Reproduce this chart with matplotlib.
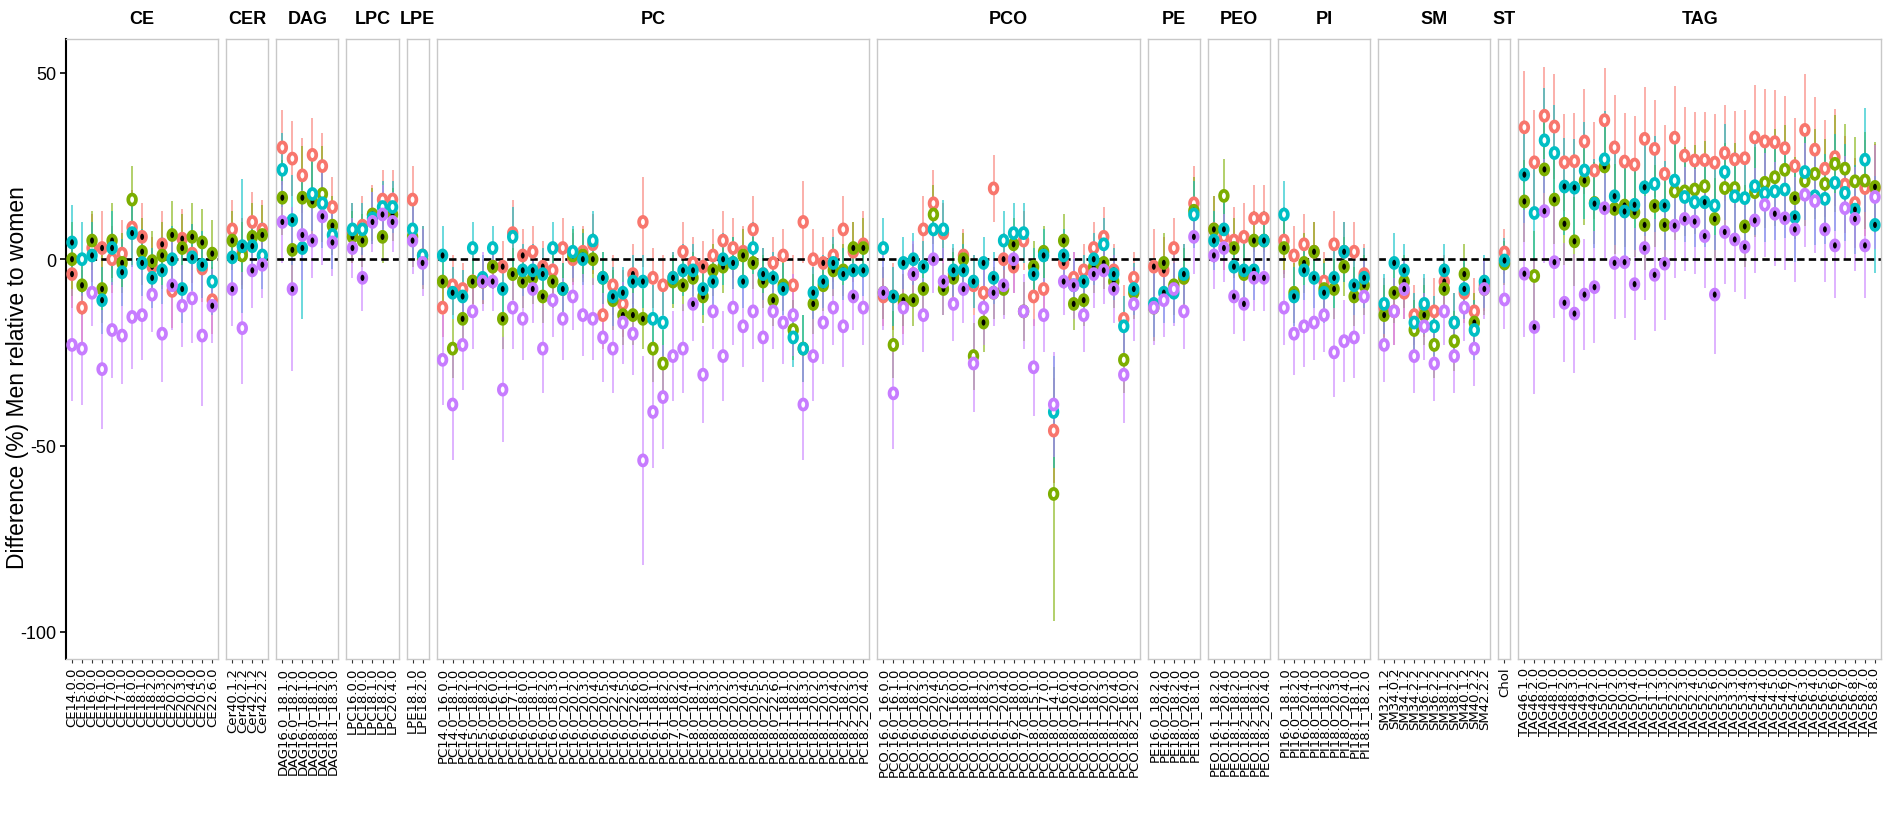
import numpy as np
import matplotlib
matplotlib.use("Agg")
import matplotlib.pyplot as plt
from matplotlib.path import Path
from matplotlib import font_manager as fm

# ---------------- data ----------------
panels = ["CE", "CER", "DAG", "LPC", "LPE", "PC", "PCO", "PE", "PEO", "PI", "SM", "ST", "TAG"]

ce_lipids = ["CE14.0.0", "CE15.0.0", "CE16.0.0", "CE16.1.0", "CE17.0.0", "CE17.1.0", "CE18.0.0",
             "CE18.1.0", "CE18.2.0", "CE18.3.0", "CE20.2.0", "CE20.3.0", "CE20.4.0", "CE20.5.0", "CE22.6.0"]
cer_lipids = ["Cer40.1.2", "Cer40.2.2", "Cer42.1.2", "Cer42.2.2"]
dag_lipids = ["DAG16.0_18.1.0", "DAG16.0_18.2.0", "DAG16.1_18.1.0", "DAG18.0_18.1.0",
              "DAG18.1_18.2.0", "DAG18.1_18.3.0"]
lpc_lipids = ["LPC16.0.0", "LPC18.0.0", "LPC18.1.0", "LPC18.2.0", "LPC20.4.0"]
lpe_lipids = ["LPE18.1.0", "LPE18.2.0"]
pc_lipids = ["PC14.0_16.0.0", "PC14.0_18.1.0", "PC14.0_18.2.0", "PC15.0_18.1.0", "PC15.0_18.2.0",
             "PC16.0_16.0.0", "PC16.0_16.1.0", "PC16.0_17.1.0", "PC16.0_18.0.0", "PC16.0_18.1.0",
             "PC16.0_18.2.0", "PC16.0_18.3.0", "PC16.0_20.1.0", "PC16.0_20.2.0", "PC16.0_20.3.0",
             "PC16.0_20.4.0", "PC16.0_20.5.0", "PC16.0_22.4.0", "PC16.0_22.5.0", "PC16.0_22.6.0",
             "PC16.1_18.0.0", "PC16.1_18.1.0", "PC16.1_18.2.0", "PC17.0_18.2.0", "PC17.0_20.4.0",
             "PC18.0_18.1.0", "PC18.0_18.2.0", "PC18.0_18.3.0", "PC18.0_20.2.0", "PC18.0_20.3.0",
             "PC18.0_20.4.0", "PC18.0_20.5.0", "PC18.0_22.5.0", "PC18.0_22.6.0", "PC18.1_18.1.0",
             "PC18.1_18.2.0", "PC18.1_18.3.0", "PC18.1_20.2.0", "PC18.1_20.3.0", "PC18.1_20.4.0",
             "PC18.2_18.2.0", "PC18.2_20.3.0", "PC18.2_20.4.0"]
pco_lipids = ["PCO.16.0_16.0.0", "PCO.16.0_16.1.0", "PCO.16.0_18.1.0", "PCO.16.0_18.2.0",
              "PCO.16.0_20.3.0", "PCO.16.0_20.4.0", "PCO.16.0_22.5.0", "PCO.16.1_16.0.0",
              "PCO.16.1_18.0.0", "PCO.16.1_18.1.0", "PCO.16.1_18.2.0", "PCO.16.1_20.3.0",
              "PCO.16.1_20.4.0", "PCO.16.2_18.0.0", "PCO.17.0_18.0.0", "PCO.18.0_15.1.0",
              "PCO.18.0_17.0.0", "PCO.18.0_14.1.0", "PCO.18.0_16.0.0", "PCO.18.0_20.4.0",
              "PCO.18.1_16.0.0", "PCO.18.1_18.2.0", "PCO.18.1_20.3.0", "PCO.18.1_20.4.0",
              "PCO.18.2_16.0.0", "PCO.18.2_18.2.0"]
pe_lipids = ["PE16.0_18.2.0", "PE16.0_20.4.0", "PE18.0_18.2.0", "PE18.0_20.4.0", "PE18.1_18.1.0"]
peo_lipids = ["PEO.16.1_18.2.0", "PEO.16.1_20.4.0", "PEO.18.1_18.2.0", "PEO.18.2_18.1.0",
              "PEO.18.2_18.2.0", "PEO.18.2_20.4.0"]
pi_lipids = ["PI16.0_18.1.0", "PI16.0_18.2.0", "PI16.0_20.4.0", "PI18.0_18.1.0", "PI18.0_18.2.0",
             "PI18.0_20.3.0", "PI18.0_20.4.0", "PI18.1_18.1.0", "PI18.1_18.2.0"]
sm_lipids = ["SM32.1.2", "SM34.0.2", "SM34.1.2", "SM34.2.2", "SM36.1.2", "SM36.2.2", "SM38.1.2",
             "SM38.2.2", "SM40.1.2", "SM40.2.2", "SM42.2.2"]
st_lipids = ["Chol"]
tag_lipids = ["TAG46.1.0", "TAG46.2.0", "TAG48.0.0", "TAG48.1.0", "TAG48.2.0", "TAG48.3.0",
              "TAG49.1.0", "TAG49.2.0", "TAG50.1.0", "TAG50.2.0", "TAG50.3.0", "TAG50.4.0",
              "TAG51.1.0", "TAG51.2.0", "TAG51.3.0", "TAG52.2.0", "TAG52.3.0", "TAG52.4.0",
              "TAG52.5.0", "TAG52.6.0", "TAG53.2.0", "TAG53.3.0", "TAG53.4.0", "TAG54.3.0",
              "TAG54.4.0", "TAG54.5.0", "TAG54.6.0", "TAG54.7.0", "TAG56.3.0", "TAG56.4.0",
              "TAG56.5.0", "TAG56.6.0", "TAG56.7.0", "TAG56.8.0", "TAG58.7.0", "TAG58.8.0"]

lipid_lists = [ce_lipids, cer_lipids, dag_lipids, lpc_lipids, lpe_lipids, pc_lipids, pco_lipids,
               pe_lipids, peo_lipids, pi_lipids, sm_lipids, st_lipids, tag_lipids]

# estimates (difference, %), in panel order
red_mean = [
    -4, -13, 3, 3, 0, 1.5, 8.5, 6, -2, 4, -8.5, 5.5, 1.5, -2.5, -11,            # CE
    8, 2, 10, 8,                                                              # CER
    30, 27, 22.5, 28, 25, 14,                                                 # DAG
    7, 9, 12, 16, 16,                                                         # LPC
    16, 1,                                                                    # LPE
    -13, -7, -8, -6, -6, -2, -2, 7, 1, 2, -2, -3, 3, 0, 2, 4, -15, -7, -12,
    -4, 10, -5, -7, -5,
    2, -1, -2, 1, 5, 3, 2, 8, -4, -1, 1, -7, 10, 0, -1, 1, 8, 2, 4,            # PC
    -10, -10, -12, -4, 8, 15, 7, -4, 1, -7, -9, 19, 0, -2, 5, -10, -8, -46, -1, -5,
    -3, 3, 6, -3, -16, -5,                                                    # PCO
    -2, -3, 3, -5, 15,                                                        # PE
    8, 6, 5, 6, 11, 11,                                                       # PEO
    5, 1, 4, 2, -6, 4, 2, 2, -4,                                              # PI
    -13, -14, -9, -15, -13, -14, -6, -17, -9, -14, -7,                        # SM
    2,                                                                        # ST
    35.4, 26, 38.5, 35.6, 26, 26.3, 31.6, 23.8, 37.3, 30, 26.2, 25.4, 32.3, 29.6, 22.9,
    32.6, 27.8, 26.5, 26.6, 25.9, 28.5, 26.8, 27.1, 32.7, 31.6, 31.4, 29.8, 25, 34.7,
    29.4, 24.3, 27.4, 20, 15.1, 19.1, 19]                                     # TAG
green_mean = [
    0, -7, 5, -8, 5, -1, 16, 2, -0.5, 1, 6.5, 3, 6, 4.5, 1.5,
    5, 1, 6, 6.5,
    16.5, 2.5, 16.5, 15.5, 17.5, 9,
    6, 5, 12, 6, 12,
    6, 0,
    -6, -24, -16, -6, -6, -2, -16, -4, -6, -5, -10, -6, -8, 1, 1, 0, -5, -11, -15,
    -15, -16, -24, -28, -6,
    -7, -5, -10, -3, -2, -1, 1, -1, -6, -11, -7, -19, -24, -12, -7, -3, -3, 3, 3,
    -9, -23, -11, -11, -8, 12, -8, -5, 0, -26, -17, -9, -8, 4, -14, -2, 2, -63, 5, -12,
    -11, -2, -1, -6, -27, -9,
    -13, -1, -7, -5, 13,
    8, 17, 3, -4, 5, 5,
    3, -9, -1, 2, -8, -8, -2, -10, -7,
    -15, -9, -6, -19, -15, -23, -8, -22, -4, -17, -8,
    -1,
    15.5, -4.5, 24.1, 16, 9.5, 4.8, 21.1, 15.1, 24.9, 13.5, 14.4, 12.6, 9.2, 14.3, 9.2,
    18.2, 18.2, 18.7, 19.6, 10.8, 19.1, 19.1, 8.8, 18, 20.5, 22, 24, 16.4, 21, 22.9,
    20.2, 25.6, 24.3, 20.9, 21.1, 19.4]
cyan_mean = [
    4.5, 0, 1, -11, 3, -3.5, 7, -1, -5, -3, 0, -8, 0.5, -1.5, -6,
    0.5, 3.5, 3.5, 1,
    24, 10.5, 3, 17.5, 15, 6.5,
    8, 8, 11, 14, 14,
    8, 1,
    1, -9, -10, 3, -5, 3, -8, 6, -3, -3, -4, 3, -8, 2, 0, 5, -5, -10, -9,
    -6, -6, -16, -17, -5,
    -3, -3, -8, -6, 0, -1, -6, 3, -4, -5, -8, -21, -24, -9, -6, -1, -4, -3, -3,
    3, -10, -1, 0, -2, 8, 8, -3, -3, -6, -1, -5, 5, 7, 7, -4, 1, -41, 1, -7,
    -6, 0, 4, -4, -18, -8,
    -12, -9, -9, -4, 12,
    5, 8, -2, -3, -3, 5,
    12, -10, -3, -5, -9, -5, 2, -7, -5,
    -12, -1, -3, -17, -12, -18, -3, -17, -8, -19, -6,
    -0.3,
    22.7, 12.4, 31.9, 28.5, 19.5, 19.2, 23.8, 14.9, 26.8, 16.9, 12.8, 14.6, 19.3, 20.2, 14.4,
    21.1, 16.7, 15.3, 15.3, 14.4, 23.4, 16.9, 16.4, 19.6, 17.7, 18.2, 18.7, 11.3, 23.4, 16.9,
    16.2, 20.5, 17.8, 13.3, 26.7, 9.2]
purple_mean = [
    -23, -24, -9, -29.5, -19, -20.5, -15.5, -15, -9.5, -20, -7, -12.5, -10.5, -20.5, -12.5,
    -8, -18.5, -3, -1.5,
    10, -8, 6.5, 5, 11.5, 4.5,
    3, -5, 10, 12, 10,
    5, -1,
    -27, -39, -23, -14, -6, -6, -35, -13, -16, -8, -24, -11, -16, -10, -15, -16, -21, -24, -17,
    -20, -54, -41, -37, -26,
    -24, -12, -31, -14, -26, -13, -18, -14, -21, -14, -17, -15, -39, -26, -17, -13, -18, -10, -13,
    -9, -36, -13, -4, -15, 0, -6, -12, -8, -28, -13, -9, -7, 0, -14, -29, -15, -39, -6, -7,
    -15, -4, -3, -8, -31, -12,
    -13, -11, -8, -14, 6,
    1, 3, -10, -12, -5, -5,
    -13, -20, -18, -17, -15, -25, -22, -21, -10,
    -23, -14, -8, -26, -18, -28, -14, -26, -13, -24, -8,
    -10.6,
    -3.9, -18.2, 12.9, -0.8, -11.7, -14.6, -9.5, -7.5, 13.7, -1, -0.8, -6.7, 3, -4.2, -1.2,
    9, 10.8, 10.1, 6.2, -9.5, 7.3, 5.3, 3.3, 10.4, 14.6, 12.2, 11, 8, 17.3, 15.6,
    8, 3.7, 13.7, 10.8, 3.7, 16.7]

# half-width of the confidence interval
red_err = [
    9, 10, 9, 10, 9, 9, 10, 9, 8, 9, 10, 8, 8, 9, 9,
    8, 9, 8, 8,
    10, 10, 10, 10, 9, 8,
    8, 8, 8, 8, 8,
    9, 8,
    8, 8, 7, 7, 6, 6, 7, 9, 7, 7, 7, 7, 8, 7, 7, 8, 9, 8, 9,
    8, 12, 8, 8, 7,
    8, 7, 7, 7, 8, 8, 7, 9, 7, 7, 7, 8, 11, 8, 7, 7, 9, 8, 9,
    8, 9, 8, 8, 9, 9, 8, 7, 7, 8, 8, 9, 7, 7, 8, 8, 8, 14, 7, 7,
    7, 7, 8, 7, 9, 7,
    10, 9, 8, 9, 10,
    9, 9, 9, 9, 9, 9,
    9, 8, 8, 8, 8, 9, 8, 8, 8,
    8, 9, 7, 8, 8, 9, 7, 8, 8, 9, 7,
    6,
    15, 14, 13, 14, 13, 13, 14, 13, 14, 14, 13, 13, 14, 13, 13,
    14, 13, 13, 13, 13, 13, 13, 13, 14, 14, 14, 14, 13, 15, 14,
    13, 13, 13, 12, 13, 12]
green_err = [
    10, 8, 8, 9, 10, 8, 9, 9, 8, 9, 9, 9, 9, 9, 9,
    8, 9, 9, 8,
    10, 10, 14, 12, 13, 8,
    7, 7, 7, 7, 7,
    8, 8,
    7, 8, 7, 6, 6, 6, 8, 7, 7, 7, 7, 7, 7, 7, 7, 7, 7, 8, 8,
    8, 8, 9, 9, 7,
    7, 7, 7, 7, 7, 7, 7, 7, 7, 7, 7, 8, 9, 8, 7, 7, 7, 7, 8,
    7, 9, 7, 7, 7, 8, 7, 7, 7, 9, 8, 7, 7, 7, 8, 7, 7, 34, 7, 7,
    7, 7, 7, 7, 9, 7,
    9, 8, 8, 8, 9,
    9, 10, 8, 8, 8, 8,
    8, 8, 8, 8, 8, 8, 8, 8, 8,
    8, 8, 7, 8, 8, 9, 7, 8, 8, 8, 7,
    6,
    11, 12, 13, 12, 11, 12, 12, 11, 12, 12, 11, 12, 12, 11, 12,
    13, 12, 12, 12, 11, 12, 12, 11, 12, 12, 13, 12, 11, 12, 12,
    12, 13, 12, 12, 13, 12]
cyan_err = [
    10, 10, 9, 9, 10, 9, 9, 9, 8, 9, 9, 9, 9, 9, 9,
    9, 18, 8, 9,
    10, 12, 19, 10, 12, 9,
    7, 7, 7, 7, 7,
    8, 8,
    8, 7, 7, 7, 6, 6, 7, 8, 7, 7, 7, 7, 7, 7, 7, 8, 7, 8, 7,
    7, 7, 9, 9, 7,
    7, 7, 7, 7, 7, 7, 7, 7, 7, 7, 7, 8, 9, 7, 7, 7, 7, 7, 7,
    8, 8, 7, 7, 7, 8, 8, 7, 7, 7, 7, 7, 8, 8, 8, 7, 7, 15, 7, 7,
    7, 7, 7, 7, 8, 7,
    9, 8, 8, 8, 9,
    8, 8, 8, 8, 8, 8,
    9, 8, 8, 8, 8, 8, 8, 8, 8,
    8, 8, 7, 8, 8, 8, 7, 8, 8, 8, 7,
    6,
    13, 13, 14, 13, 13, 13, 13, 12, 13, 13, 12, 12, 13, 13, 12,
    13, 12, 12, 12, 12, 13, 12, 12, 13, 13, 13, 13, 12, 13, 13,
    12, 13, 13, 12, 14, 13]
purple_err = [
    15, 15, 9, 16, 13, 13, 14, 12, 10, 13, 12, 11, 12, 19, 10,
    10, 15, 10, 9,
    11, 22, 12, 10, 13, 9,
    8, 9, 8, 8, 8,
    9, 9,
    12, 15, 12, 10, 8, 8, 14, 11, 11, 9, 12, 10, 11, 9, 11, 11, 12, 12, 11,
    11, 28, 15, 14, 12,
    12, 10, 13, 10, 12, 10, 11, 10, 12, 10, 11, 11, 15, 12, 11, 10, 11, 9, 10,
    10, 15, 10, 9, 10, 9, 9, 10, 9, 13, 10, 9, 9, 9, 10, 13, 10, 14, 9, 9,
    10, 9, 9, 9, 13, 10,
    10, 10, 10, 10, 10,
    9, 9, 10, 10, 9, 9,
    10, 11, 11, 10, 10, 12, 11, 11, 10,
    10, 9, 8, 10, 9, 10, 9, 10, 9, 10, 8,
    8,
    17, 18, 14, 15, 16, 16, 15, 15, 14, 15, 15, 15, 14, 15, 15,
    14, 14, 14, 14, 16, 14, 14, 14, 14, 14, 14, 14, 14, 14, 14,
    14, 14, 14, 14, 14, 14]

# 1 = black centre dot, 0 = open (white) centre
red_sig = [
    1, 0, 0, 1, 0, 0, 0, 1, 1, 1, 0, 1, 0, 0, 0,
    0, 0, 0, 0,
    0, 0, 0, 0, 0, 0,
    0, 0, 0, 0, 0,
    0, 0,
    0, 0, 0, 1, 1, 1, 1, 0, 1, 0, 1, 0, 0, 0, 0, 0, 0, 0, 0,
    1, 0, 0, 0, 1,
    0, 0, 1, 0, 0, 0, 0, 0, 1, 0, 0, 0, 0, 0, 1, 0, 0, 0, 0,
    0, 0, 0, 1, 0, 0, 0, 1, 0, 0, 0, 0, 1, 1, 0, 0, 0, 0, 1, 0,
    0, 0, 0, 1, 0, 0,
    1, 1, 0, 0, 0,
    0, 0, 0, 0, 0, 0,
    0, 0, 0, 1, 0, 0, 0, 0, 1,
    0, 0, 0, 0, 0, 0, 1, 0, 0, 0, 1,
    0,
    0, 0, 0, 0, 0, 0, 0, 0, 0, 0, 0, 0, 0, 0, 0,
    0, 0, 0, 0, 0, 0, 0, 0, 0, 0, 0, 0, 0, 0, 0,
    0, 0, 0, 0, 0, 0]
green_sig = [
    1, 1, 1, 1, 1, 1, 0, 1, 1, 1, 1, 1, 1, 1, 1,
    1, 0, 1, 1,
    1, 1, 1, 1, 0, 1,
    1, 1, 1, 1, 1,
    1, 1,
    1, 0, 1, 1, 1, 1, 1, 1, 1, 1, 1, 1, 1, 1, 1, 1, 1, 1, 1,
    1, 1, 0, 0, 1,
    1, 1, 1, 1, 1, 1, 1, 1, 1, 1, 1, 0, 0, 1, 1, 1, 1, 1, 1,
    1, 0, 1, 1, 1, 0, 1, 1, 1, 0, 1, 1, 1, 1, 1, 1, 1, 0, 1, 1,
    1, 1, 1, 1, 0, 1,
    1, 1, 1, 1, 1,
    1, 0, 1, 1, 1, 1,
    1, 1, 1, 1, 1, 1, 1, 1, 1,
    1, 1, 1, 0, 1, 0, 1, 0, 1, 1, 1,
    1,
    1, 0, 1, 1, 1, 1, 1, 1, 1, 1, 1, 1, 1, 1, 1,
    0, 0, 0, 0, 1, 0, 0, 1, 0, 0, 0, 0, 1, 0, 0,
    0, 0, 0, 0, 0, 1]
cyan_sig = [
    1, 0, 1, 1, 1, 1, 1, 1, 1, 1, 1, 1, 1, 1, 0,
    1, 1, 1, 0,
    0, 1, 1, 0, 0, 0,
    0, 0, 0, 0, 0,
    0, 0,
    1, 1, 1, 0, 1, 0, 1, 0, 1, 1, 1, 0, 1, 0, 1, 0, 1, 1, 1,
    1, 1, 0, 0, 1,
    1, 1, 1, 1, 1, 1, 1, 0, 1, 1, 1, 0, 0, 1, 1, 1, 1, 1, 1,
    0, 1, 1, 1, 1, 0, 0, 1, 1, 1, 1, 1, 0, 0, 0, 1, 1, 0, 1, 1,
    1, 1, 0, 1, 0, 1,
    1, 1, 1, 1, 0,
    1, 1, 1, 1, 1, 1,
    0, 1, 1, 1, 1, 1, 1, 1, 1,
    0, 1, 1, 0, 0, 0, 1, 0, 1, 0, 1,
    1,
    1, 0, 0, 0, 1, 1, 0, 1, 0, 1, 1, 1, 1, 0, 1,
    0, 0, 0, 1, 0, 0, 0, 0, 0, 0, 0, 0, 1, 0, 0,
    0, 0, 0, 1, 0, 1]
purple_sig = [
    0, 0, 0, 0, 0, 0, 0, 0, 0, 0, 1, 0, 0, 0, 1,
    1, 0, 1, 1,
    1, 1, 1, 1, 1, 1,
    1, 1, 1, 1, 1,
    1, 1,
    0, 0, 0, 0, 1, 1, 0, 0, 0, 1, 0, 0, 0, 0, 0, 0, 0, 0, 0,
    0, 0, 0, 0, 0,
    0, 1, 0, 0, 0, 0, 0, 0, 0, 0, 0, 0, 0, 0, 0, 0, 0, 1, 0,
    1, 0, 0, 1, 0, 1, 1, 0, 1, 0, 0, 1, 1, 1, 0, 0, 0, 0, 1, 1,
    0, 1, 1, 1, 0, 0,
    0, 0, 0, 0, 1,
    1, 1, 1, 1, 1, 1,
    0, 0, 0, 0, 0, 0, 0, 0, 0,
    0, 0, 1, 0, 0, 0, 0, 0, 0, 0, 1,
    0,
    1, 1, 1, 1, 1, 1, 1, 1, 1, 1, 1, 1, 1, 1, 1,
    1, 1, 1, 1, 1, 1, 1, 1, 1, 0, 1, 1, 1, 0, 0,
    1, 1, 0, 1, 1, 0]

series_colors = ["#F8766D", "#7CAE00", "#00BFC4", "#C77CFF"]
y_ticks = [-100, -50, 0, 50]
y_tick_labels = ["-100", "-50", "0", "50"]
y_title = "Difference (%) Men relative to women"

# ---------------- fonts ----------------
def available(name):
    try:
        fm.findfont(fm.FontProperties(family=name), fallback_to_default=False)
        return True
    except Exception:
        return False

sans = "Liberation Sans" if available("Liberation Sans") else "DejaVu Sans"
strip_font = "Liberation Sans Narrow" if available("Liberation Sans Narrow") else sans

# ---------------- layout ----------------
W, H = 1890, 829
fig = plt.figure(figsize=(W / 100, H / 100), dpi=100)
left_px, right_px, top_px, bottom_px = 66, 1881, 40, 660
gap_px = 8
counts = [len(l) for l in lipid_lists]
units = [n + 0.2 for n in counts]
unit_px = (right_px - left_px - gap_px * (len(counts) - 1)) / sum(units)

t = np.linspace(0, 2 * np.pi, 64)
ellipse = Path(np.column_stack([0.76 * np.cos(t), np.sin(t)]), closed=True)

means = [np.array(red_mean, float), np.array(green_mean, float),
         np.array(cyan_mean, float), np.array(purple_mean, float)]
errs = [np.array(red_err, float), np.array(green_err, float),
        np.array(cyan_err, float), np.array(purple_err, float)]
sigs = [np.array(red_sig), np.array(green_sig), np.array(cyan_sig), np.array(purple_sig)]

starts = np.concatenate([[0], np.cumsum(counts)])
x0 = left_px
for p, name in enumerate(panels):
    n = counts[p]
    w = units[p] * unit_px
    ax = fig.add_axes([x0 / W, 1 - bottom_px / H, w / W, (bottom_px - top_px) / H])
    xs = np.arange(1, n + 1)
    sl = slice(starts[p], starts[p + 1])
    ax.set_xlim(0.4, n + 0.6)
    ax.set_ylim(-107.3, 59.1)
    ax.axhline(0, color="black", lw=1.9, dashes=(2.8, 1.6), zorder=2.5)
    for s in range(4):
        m = means[s][sl]
        e = errs[s][sl]
        ax.vlines(xs, m - e, m + e, colors=series_colors[s], alpha=0.65, lw=1.25, zorder=2)
    for s in range(4):
        m = means[s][sl]
        fc = ["black" if v else "white" for v in sigs[s][sl]]
        ax.scatter(xs, m, s=52, marker=ellipse, facecolors=fc, edgecolors=series_colors[s],
                   linewidths=2.7, zorder=3 + s / 10)
    ax.set_xticks(xs)
    ax.set_xticklabels(lipid_lists[p], rotation=90, fontsize=9.5, family="DejaVu Sans")
    ax.tick_params(axis="x", length=3, width=0.8, color="#333333", pad=2.5)
    for sp in ax.spines.values():
        sp.set_color("#c8c8c8")
        sp.set_linewidth(1.0)
    if p == 0:
        ax.set_yticks(y_ticks)
        ax.set_yticklabels(y_tick_labels, fontsize=13, family=sans)
        ax.tick_params(axis="y", length=4, width=1.2, color="black", pad=3)
        ax.spines["left"].set_color("black")
        ax.spines["left"].set_linewidth(1.5)
    else:
        ax.set_yticks([])
    ax.text(0.5, 1 + 21 / (bottom_px - top_px), name, transform=ax.transAxes,
            ha="center", va="center", fontsize=13, fontweight="bold", family=strip_font)
    x0 += w + gap_px

fig.text(18 / W, 1 - 378 / H, y_title, rotation=90, ha="center", va="center",
         fontsize=16.5, family=sans)

fig.savefig("out.png", dpi=100)
